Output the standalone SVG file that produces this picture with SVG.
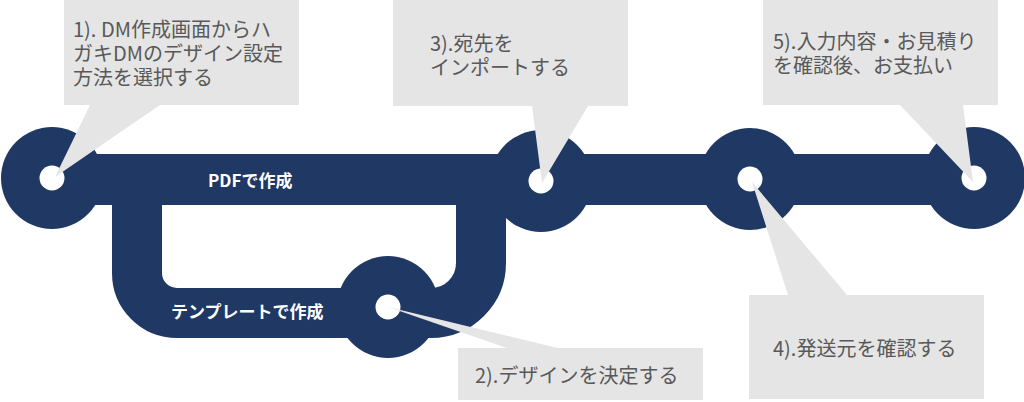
<svg xmlns="http://www.w3.org/2000/svg" width="1024" height="402" viewBox="0 0 1024 402">
<style>
.track{fill:none;stroke:#203864;stroke-width:50}
.bar{fill:#203864}
.ring{fill:#203864}
.dot{fill:#ffffff}
.call{fill:#e5e5e5}
.ct{font-family:"Noto Sans CJK JP","Noto Sans",sans-serif;font-size:20px;fill:#595959}
.lt{font-family:"Noto Sans CJK JP","Noto Sans",sans-serif;font-size:17px;font-weight:bold;fill:#ffffff}
</style>
<rect width="1024" height="402" fill="#ffffff"/>
<g id="connectors">
<rect class="bar" x="52" y="154" width="922" height="51"/>
<path class="track" d="M137,180 V273 A40,40 0 0 0 177,313 H431 A50,50 0 0 0 481,263 V180"/>
</g>
<g id="node1"><circle class="ring" cx="52" cy="178" r="51"/><circle class="dot" cx="52" cy="178" r="12.5"/></g>
<g id="node2"><circle class="ring" cx="388" cy="307" r="51"/><circle class="dot" cx="388" cy="307" r="12.5"/></g>
<g id="node3"><circle class="ring" cx="541" cy="181" r="51"/><circle class="dot" cx="541" cy="181" r="12.5"/></g>
<g id="node4"><circle class="ring" cx="750" cy="179" r="51"/><circle class="dot" cx="750" cy="179" r="12.5"/></g>
<g id="node5"><circle class="ring" cx="974" cy="178" r="51"/><circle class="dot" cx="974" cy="178" r="12.5"/></g>
<g id="labels">
<text class="lt" x="208" y="187">PDFで作成</text>
<text class="lt" x="171" y="318">テンプレートで作成</text>
</g>
<g id="callout1">
<path class="call" d="M64,0 H299 V105 H160 L55,177 L90,105 H64 Z"/>
<text class="ct" x="73" y="37">1). DM作成画面からハ</text>
<text class="ct" x="73" y="61">ガキDMのデザイン設定</text>
<text class="ct" x="73" y="85">方法を選択する</text>
</g>
<g id="callout2">
<path class="call" d="M458,348 H507 L388,307 L558,348 H703 V400 H458 Z"/>
<text class="ct" x="475" y="383">2).デザインを決定する</text>
</g>
<g id="callout3">
<path class="call" d="M393,0 H628 V106 H588 L542,183 L532,106 H393 Z"/>
<text class="ct" x="430" y="51">3).宛先を</text>
<text class="ct" x="430" y="75">インポートする</text>
</g>
<g id="callout4">
<path class="call" d="M749,295 H788 L752,182 L847,295 H984 V399 H749 Z"/>
<text class="ct" x="773" y="356">4).発送元を確認する</text>
</g>
<g id="callout5">
<path class="call" d="M763,0 H998 V105 H963 L973,182 L900,105 H763 Z"/>
<text class="ct" x="773" y="49">5).入力内容・お見積り</text>
<text class="ct" x="773" y="73">を確認後、お支払い</text>
</g>
</svg>
